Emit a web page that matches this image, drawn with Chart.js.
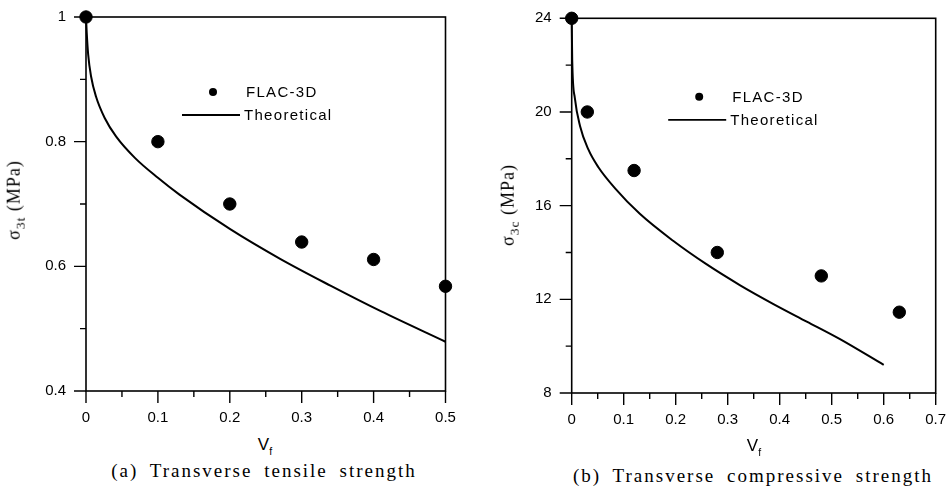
<!DOCTYPE html>
<html>
<head>
<meta charset="utf-8">
<script src="https://cdn.jsdelivr.net/npm/chart.js@4.4.1/dist/chart.umd.min.js"></script>
<style>
  html, body { margin: 0; padding: 0; background: #fff; }
  body { width: 947px; height: 499px; position: relative; overflow: hidden; }
  .panel { position: absolute; }
  #panelA { left: 0; top: 0; width: 470px; height: 435px; }
  #panelB { left: 480px; top: 0; width: 467px; height: 440px; }
  .ytitle {
    position: absolute; transform: translate(-50%, -50%) rotate(-90deg);
    font-family: "Liberation Serif", serif; font-size: 18px; white-space: nowrap; letter-spacing: 1px;
  }
  .xtitle {
    position: absolute; transform: translate(-50%, -50%);
    font-family: "Liberation Sans", Arial, sans-serif; font-size: 17px;
  }
  .caption {
    position: absolute; transform: translateX(-50%);
    font-family: "Liberation Serif", serif; font-size: 19px; white-space: nowrap;
    letter-spacing: 2px; word-spacing: 5px;
  }
  .ytitle sub { font-size: 75%; }
  .xtitle sub { font-size: 62%; }
</style>
</head>
<body>
<div class="panel" id="panelA"><canvas id="chartA"></canvas></div>
<div class="panel" id="panelB"><canvas id="chartB"></canvas></div>

<div class="ytitle" style="left:16px; top:200px;">σ<sub>3t</sub> (MPa)</div>
<div class="xtitle" style="left:265px; top:446px;">V<sub>f</sub></div>
<div class="caption" style="left:264px; top:460px;">(a) Transverse tensile strength</div>

<div class="ytitle" style="left:510px; top:205px;">σ<sub>3c</sub> (MPa)</div>
<div class="xtitle" style="left:754px; top:447px;">V<sub>f</sub></div>
<div class="caption" style="left:753px; top:465px;">(b) Transverse compressive strength</div>

<script>
// (a) transverse tensile strength
const tensileVf = [0, 0.1, 0.2, 0.3, 0.4, 0.5];
const tensileFlac = [1, 0.8, 0.7, 0.639, 0.611, 0.568];
const tensileTheoryVf = [0, 0.001, 0.003, 0.007, 0.014, 0.026, 0.042, 0.068, 0.1, 0.13, 0.2, 0.27, 0.34, 0.41, 0.5];
const tensileTheory = [1, 0.975, 0.94, 0.905, 0.872, 0.838, 0.808, 0.774, 0.742, 0.715, 0.66, 0.612, 0.569, 0.528, 0.479];

// (b) transverse compressive strength
const compVf = [0, 0.03, 0.12, 0.28, 0.48, 0.63];
const compFlac = [24, 20, 17.5, 14, 13, 11.45];
const compTheoryVf = [0, 0.001, 0.006, 0.016, 0.032, 0.051, 0.083, 0.131, 0.195, 0.259, 0.324, 0.388, 0.452, 0.516, 0.6];
const compTheory = [24, 22.2, 20.6, 19.4, 18.4, 17.65, 16.75, 15.65, 14.5, 13.5, 12.6, 11.8, 11.05, 10.3, 9.2];

const TICK_FONT = { family: '"Liberation Sans", Arial, sans-serif', size: 15 };

const pairs = (xs, ys) => xs.map((x, i) => ({ x, y: ys[i] }));

// box around the plot plus long/short tick marks pointing outward
const frameAndTicks = {
  id: 'frameAndTicks',
  beforeDatasetsDraw(chart) {
    const { ctx, chartArea: a, scales } = chart;
    ctx.save();
    ctx.strokeStyle = '#000';
    ctx.lineWidth = 1.6;
    ctx.strokeRect(a.left, a.top, a.right - a.left, a.bottom - a.top);
    ctx.lineWidth = 1.4;
    ctx.beginPath();
    scales.x.ticks.forEach(t => {
      const px = scales.x.getPixelForValue(t.value);
      ctx.moveTo(px, a.bottom);
      ctx.lineTo(px, a.bottom + (t.label ? 12 : 6));
    });
    scales.y.ticks.forEach(t => {
      const py = scales.y.getPixelForValue(t.value);
      ctx.moveTo(a.left, py);
      ctx.lineTo(a.left - (t.label ? 12 : 6), py);
    });
    ctx.stroke();
    ctx.restore();
  }
};

// small legend drawn inside the plot area
const innerLegend = {
  id: 'innerLegend',
  afterDraw(chart, args, opts) {
    const { ctx, chartArea: a } = chart;
    const [pts, line] = chart.data.datasets;
    const x0 = a.left + opts.x, y0 = a.top + opts.y;
    ctx.save();
    ctx.fillStyle = '#000';
    ctx.strokeStyle = '#000';
    ctx.font = '15px "Liberation Sans", Arial, sans-serif';
    ctx.letterSpacing = '1.3px';
    ctx.textBaseline = 'middle';
    ctx.beginPath();
    ctx.arc(x0 + 31, y0, 4, 0, Math.PI * 2);
    ctx.fill();
    ctx.fillText(pts.label, x0 + 64, y0 + 1);
    ctx.lineWidth = 1.8;
    ctx.beginPath();
    ctx.moveTo(x0, y0 + 23);
    ctx.lineTo(x0 + 58, y0 + 23);
    ctx.stroke();
    ctx.fillText(line.label, x0 + 62, y0 + 24);
    ctx.restore();
  }
};

function makeChart(id, cfg) {
  const labelEvery = cfg.labelEvery;
  const tickLabel = (v) => {
    const k = Math.round(v / cfg.yStep);
    return k % labelEvery === 0 ? String(+v.toFixed(2)) : '';
  };
  return new Chart(document.getElementById(id), {
    type: 'scatter',
    data: {
      datasets: [
        {
          label: 'FLAC-3D',
          data: pairs(cfg.vf, cfg.flac),
          backgroundColor: '#000',
          borderColor: '#000',
          pointRadius: 6.2,
          pointHoverRadius: 6.2,
          clip: false,
        },
        {
          label: 'Theoretical',
          data: pairs(cfg.theoryVf, cfg.theory),
          showLine: true,
          borderColor: '#000',
          borderWidth: 2,
          pointRadius: 0,
          cubicInterpolationMode: 'monotone',
          clip: false,
        },
      ],
    },
    options: {
      responsive: true,
      maintainAspectRatio: false,
      animation: false,
      layout: { padding: cfg.padding },
      plugins: {
        legend: { display: false },
        tooltip: { enabled: false },
        innerLegend: cfg.legend,
      },
      scales: {
        x: {
          type: 'linear',
          min: 0, max: cfg.xMax,
          grid: { display: true, drawOnChartArea: false, drawTicks: true, tickLength: 12, tickColor: 'transparent' },
          border: { display: false },
          ticks: {
            stepSize: 0.05, autoSkip: false, maxRotation: 0, padding: 6,
            color: '#000', font: TICK_FONT,
            callback: (v) => (Math.round(v * 100) % 10 === 0 ? String(+v.toFixed(1)) : ''),
          },
          afterFit(s) { s.height = cfg.xAxisHeight; s.paddingLeft = 0; s.paddingRight = 0; },
        },
        y: {
          type: 'linear',
          min: cfg.yMin, max: cfg.yMax,
          grid: { display: true, drawOnChartArea: false, drawTicks: true, tickLength: 12, tickColor: 'transparent' },
          border: { display: false },
          ticks: {
            stepSize: cfg.yStep, autoSkip: false, padding: 8,
            color: '#000', font: TICK_FONT,
            callback: tickLabel,
          },
          afterFit(s) { s.width = cfg.yAxisWidth; s.paddingTop = 0; s.paddingBottom = 0; },
        },
      },
    },
    plugins: [frameAndTicks, innerLegend],
  });
}

makeChart('chartA', {
  vf: tensileVf, flac: tensileFlac, theoryVf: tensileTheoryVf, theory: tensileTheory,
  xMax: 0.5, yMin: 0.4, yMax: 1, yStep: 0.1, labelEvery: 2,
  padding: { top: 17, right: 24.5, left: 0, bottom: 0 },
  yAxisWidth: 86, xAxisHeight: 44,
  legend: { x: 96, y: 75 },
});

makeChart('chartB', {
  vf: compVf, flac: compFlac, theoryVf: compTheoryVf, theory: compTheory,
  xMax: 0.7, yMin: 8, yMax: 24, yStep: 2, labelEvery: 2,
  padding: { top: 18.3, right: 11.3, left: 0, bottom: 0 },
  yAxisWidth: 91.7, xAxisHeight: 47,
  legend: { x: 96.5, y: 78.5 },
});
</script>
</body>
</html>
